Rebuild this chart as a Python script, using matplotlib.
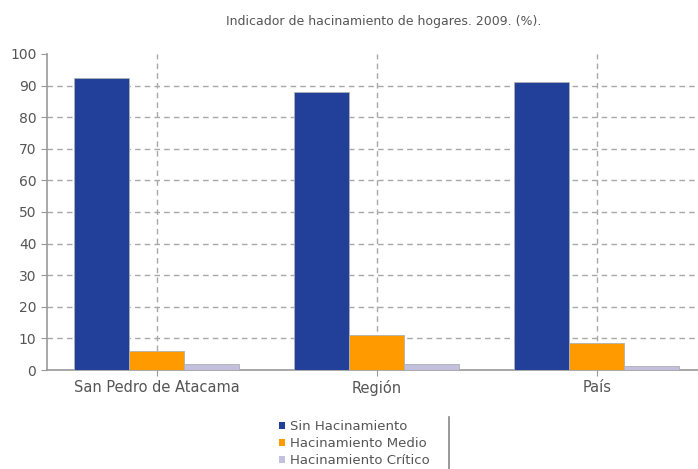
import numpy as np
import matplotlib.pyplot as plt
from matplotlib.patches import Patch

categories = ['San Pedro de Atacama', 'Región', 'País']
sin_hacinamiento = [92.5, 88.0, 91.0]
hacinamiento_medio = [6.0, 11.0, 8.5]
hacinamiento_critico = [1.8, 2.0, 1.4]
series_names = ['Sin Hacinamiento', 'Hacinamiento Medio', 'Hacinamiento Crítico']
colors = ['#22409a', '#ff9a00', '#c3bfdf']

fig = plt.figure(figsize=(6.98, 4.69), dpi=100)
ax = fig.add_axes([0.067, 0.211, 0.933, 0.674])

x = np.arange(len(categories))
w = 0.25
for k, vals in enumerate([sin_hacinamiento, hacinamiento_medio, hacinamiento_critico]):
    ax.bar(x + (k - 1) * w, vals, w, color=colors[k], edgecolor='#b0b0b0', linewidth=0.6, zorder=3)

ax.set_xlim(-0.5, 2.46)
ax.set_ylim(0, 100)
ax.set_yticks(np.arange(0, 101, 10))
ax.set_xticks(x)
ax.set_xticklabels(categories)
ax.grid(True, color='#a8a8a8', linestyle=(0, (4, 3)), linewidth=1.0, zorder=0)
ax.yaxis.get_gridlines()[-1].set_visible(False)
for s in ['top', 'right']:
    ax.spines[s].set_visible(False)
for s in ['left', 'bottom']:
    ax.spines[s].set_color('#999999')
    ax.spines[s].set_linewidth(1.2)
ax.tick_params(colors='#999999', labelcolor='#555555', labelsize=10, length=4)
ax.tick_params(axis='x', labelsize=10.5)

fig.text(0.55, 0.955, 'Indicador de hacinamiento de hogares. 2009. (%).', ha='center', va='center',
         fontsize=9, color='#555555')

handles = [Patch(facecolor=c, edgecolor='none') for c in colors]
leg = fig.legend(handles, series_names, loc='upper left', bbox_to_anchor=(0.39, 0.118),
                 frameon=False, fontsize=9.5, handlelength=0.5, handleheight=0.5,
                 handletextpad=0.35, labelspacing=0.3, borderpad=0)
for t in leg.get_texts():
    t.set_color('#555555')
fig.add_artist(plt.Line2D([0.643, 0.643], [0.0, 0.11], color='#888888', linewidth=1.2))

fig.savefig('out.png', dpi=100)
